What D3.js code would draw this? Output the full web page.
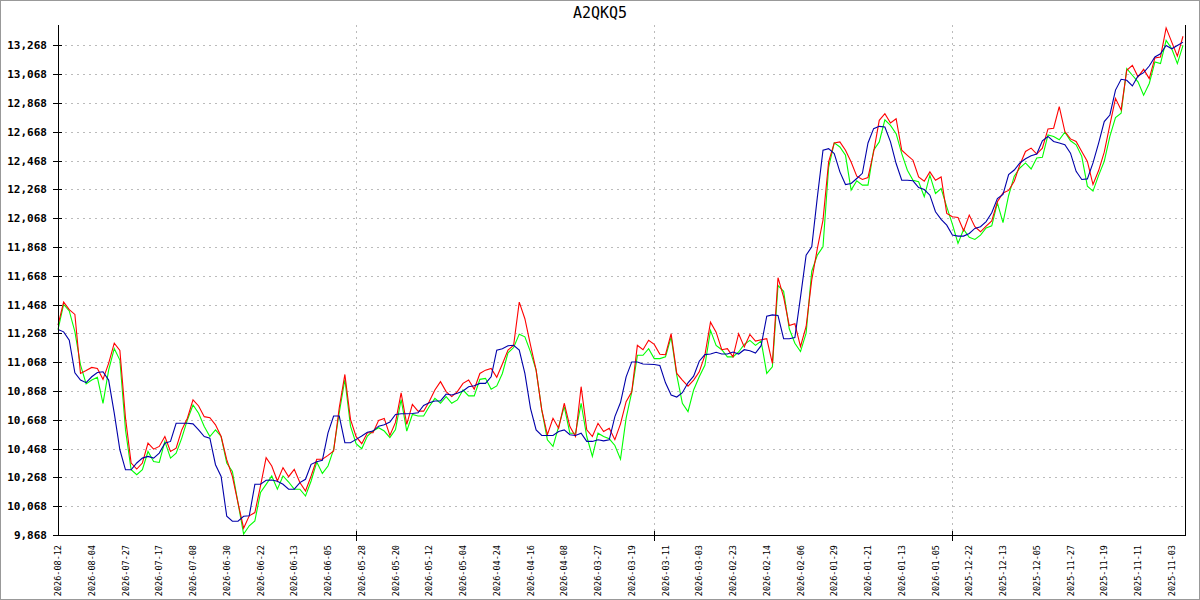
<!DOCTYPE html>
<html>
<head>
<meta charset="utf-8">
<script src="https://cdn.jsdelivr.net/npm/d3@7/dist/d3.min.js"></script>
<style>
  html, body { margin: 0; padding: 0; background: #fff; }
  svg { display: block; }
</style>
</head>
<body>
<svg id="chart" width="1200" height="600"></svg>
<script>
const title = "A2QKQ5";

const tickLabels = ["2026-08-12","2026-08-04","2026-07-27","2026-07-17","2026-07-08","2026-06-30","2026-06-22","2026-06-13","2026-06-05","2026-05-28","2026-05-20","2026-05-12","2026-05-04","2026-04-24","2026-04-16","2026-04-08","2026-03-27","2026-03-19","2026-03-11","2026-03-03","2026-02-23","2026-02-14","2026-02-06","2026-01-29","2026-01-21","2026-01-13","2026-01-05","2025-12-22","2025-12-13","2025-12-05","2025-11-27","2025-11-19","2025-11-11","2025-11-03"];
const labelEvery = 6;
const gridIdx = [53, 106, 159];

const yTickValues = [9868,10068,10268,10468,10668,10868,11068,11268,11468,11668,11868,12068,12268,12468,12668,12868,13068,13268];

const red = [11325,11486,11433,11400,10990,11010,11032,11025,10949,11060,11200,11150,10680,10368,10326,10368,10506,10464,10483,10552,
10448,10471,10598,10679,10806,10764,10690,10683,10633,10552,10391,10275,10091,9915,10001,10024,10209,10405,10347,10243,
10336,10273,10324,10232,10174,10278,10394,10394,10421,10451,10752,10983,10671,10551,10502,10578,10578,10664,10678,10560,
10650,10855,10636,10775,10728,10728,10795,10875,10933,10864,10829,10864,10921,10944,10880,10990,11013,11025,10963,11055,
11152,11186,11485,11370,11186,11013,10737,10564,10679,10610,10783,10621,10552,10898,10598,10552,10644,10587,10610,10530,
10640,10794,10863,11185,11155,11220,11192,11123,11120,11266,10990,10944,10902,10944,11001,11116,11346,11277,11155,11162,
11105,11266,11174,11261,11215,11224,11231,11060,11655,11520,11323,11335,11177,11316,11640,11858,12055,12459,12591,12598,
12540,12459,12360,12337,12351,12528,12748,12794,12729,12759,12540,12505,12471,12355,12325,12390,12332,12355,12101,12078,
12073,11981,12090,12009,11974,12013,12049,12182,12244,12261,12325,12440,12532,12555,12514,12555,12688,12693,12843,12670,
12619,12601,12532,12463,12302,12399,12527,12716,12900,12820,13096,13130,13050,13102,13038,13181,13188,13390,13291,13194,
13332];

const green = [11295,11470,11424,11280,11050,10917,10944,10963,10782,11013,11163,11083,10598,10321,10287,10321,10448,10379,10372,10518,
10402,10437,10541,10667,10771,10714,10621,10552,10598,10552,10368,10310,10091,9874,9932,9966,10163,10220,10278,10186,
10278,10236,10186,10186,10139,10243,10375,10296,10347,10463,10717,10948,10624,10502,10467,10555,10590,10613,10590,10544,
10601,10809,10590,10705,10694,10694,10760,10817,10783,10829,10783,10806,10875,10834,10834,10949,10956,10880,10903,10990,
11133,11170,11263,11244,11140,11013,10737,10529,10483,10621,10760,10575,10575,10783,10552,10414,10575,10552,10536,10490,
10395,10680,10860,11116,11116,11162,11093,11093,11105,11243,10978,10783,10725,10875,10967,11047,11289,11185,11155,11105,
11105,11139,11192,11220,11185,11215,10990,11036,11600,11560,11300,11200,11142,11270,11700,11812,11870,12422,12591,12563,
12505,12263,12328,12298,12298,12540,12598,12752,12713,12655,12517,12401,12332,12321,12217,12367,12240,12274,12147,12027,
11893,11990,11935,11921,11951,12000,12015,12175,12037,12226,12360,12417,12452,12410,12486,12491,12647,12636,12613,12665,
12606,12578,12498,12291,12256,12366,12463,12636,12767,12797,13107,13061,13015,12923,13004,13153,13142,13303,13245,13142,
13268];

const blue = [11295,11279,11221,10995,10944,10926,10967,10997,11002,10944,10714,10460,10321,10321,10368,10402,10414,10402,10437,10506,
10518,10644,10644,10644,10640,10598,10552,10541,10356,10275,9998,9964,9964,9998,10001,10220,10220,10248,10250,10241,
10220,10186,10186,10232,10255,10359,10377,10387,10578,10694,10694,10509,10509,10532,10555,10581,10590,10624,10634,10652,
10705,10710,10710,10712,10717,10768,10786,10799,10799,10847,10840,10852,10868,10898,10905,10921,10921,10967,11152,11161,
11182,11186,11152,10990,10748,10598,10559,10559,10559,10587,10598,10564,10559,10575,10518,10518,10529,10522,10529,10690,
10788,10966,11070,11070,11056,11054,11052,11045,10925,10840,10826,10856,10925,10971,11075,11121,11125,11137,11125,11125,
11139,11125,11155,11148,11132,11183,11388,11397,11392,11231,11231,11240,11520,11812,11870,12216,12540,12551,12517,12390,
12302,12309,12344,12380,12591,12690,12706,12702,12598,12448,12332,12332,12328,12281,12267,12228,12113,12060,12020,11951,
11944,11944,11962,11997,12009,12045,12106,12205,12233,12371,12403,12452,12481,12502,12514,12606,12636,12601,12590,12578,
12520,12394,12337,12341,12452,12590,12739,12785,12958,13033,13026,12987,13056,13079,13125,13188,13210,13268,13245,13268,
13291];

const N = red.length;
const svg = d3.select("#chart");
const plotL = 58, plotR = 1185, plotT = 25, plotB = 535;

const x = d3.scaleLinear().domain([0, N - 1]).range([plotL, 1183]);
const y = d3.scaleLinear().domain([9868, 13410]).range([plotB, plotT]);
const px = v => Math.round(v) + 0.5;

// outer border
svg.append("rect").attr("x", 0.5).attr("y", 0.5).attr("width", 1199).attr("height", 599)
  .attr("fill", "#fff").attr("stroke", "#999").attr("stroke-width", 1);

// horizontal grid
svg.append("g").selectAll("line").data(yTickValues.slice(1)).join("line")
  .attr("x1", plotL + 1).attr("x2", plotR)
  .attr("y1", d => px(y(d))).attr("y2", d => px(y(d)))
  .attr("stroke", "#bbbbbb").attr("stroke-dasharray", "2,4").attr("shape-rendering", "crispEdges");

// vertical grid
svg.append("g").selectAll("line").data(gridIdx).join("line")
  .attr("x1", d => px(x(d))).attr("x2", d => px(x(d)))
  .attr("y1", plotT).attr("y2", plotB)
  .attr("stroke", "#bbbbbb").attr("stroke-dasharray", "2,4").attr("shape-rendering", "crispEdges");

// series
const line = d3.line().x((d, i) => x(i)).y(d => y(d));
const series = [[green, "#00ff00"], [red, "#ff0000"], [blue, "#0000aa"]];
series.forEach(([data, color]) => {
  svg.append("path").datum(data).attr("d", line)
    .attr("fill", "none").attr("stroke", color).attr("stroke-width", 1.1)
    .attr("stroke-linejoin", "miter");
});

// axes lines
const axes = svg.append("g").attr("stroke", "#000").attr("shape-rendering", "crispEdges");
axes.append("line").attr("x1", px(plotL)).attr("x2", px(plotL)).attr("y1", plotT).attr("y2", plotB + 1);
axes.append("line").attr("x1", plotL).attr("x2", plotR + 1).attr("y1", px(plotB)).attr("y2", px(plotB));
axes.append("line").attr("x1", px(plotR)).attr("x2", px(plotR)).attr("y1", plotT).attr("y2", plotB + 1);

// y ticks & labels
const fmt = d3.format(",");
const yg = svg.append("g");
yg.selectAll("line").data(yTickValues).join("line")
  .attr("x1", plotL - 5).attr("x2", plotL + 4)
  .attr("y1", d => px(y(d))).attr("y2", d => px(y(d)))
  .attr("stroke", "#000").attr("shape-rendering", "crispEdges");
yg.selectAll("text").data(yTickValues).join("text")
  .attr("x", 47).attr("y", d => y(d)).attr("dy", "0.36em")
  .attr("text-anchor", "end")
  .attr("font-family", "DejaVu Sans Mono, monospace").attr("font-weight", "bold")
  .attr("font-size", 11).attr("fill", "#000")
  .text(d => fmt(d));

// x grid ticks
svg.append("g").selectAll("line").data(gridIdx).join("line")
  .attr("x1", d => px(x(d))).attr("x2", d => px(x(d)))
  .attr("y1", plotB - 4).attr("y2", plotB + 6)
  .attr("stroke", "#000").attr("shape-rendering", "crispEdges");

// x labels (rotated)
svg.append("g").selectAll("text").data(tickLabels).join("text")
  .attr("transform", (d, k) => `translate(${x(k * labelEvery) + 3},545) rotate(-90)`)
  .attr("text-anchor", "end")
  .attr("font-family", "DejaVu Sans Mono, monospace")
  .attr("font-size", 8.5).attr("fill", "#000")
  .text(d => d);

// title
svg.append("text").attr("x", 600).attr("y", 18).attr("text-anchor", "middle")
  .attr("font-family", "DejaVu Sans Mono, monospace").attr("font-size", 15)
  .attr("fill", "#000").text(title);
</script>
</body>
</html>
